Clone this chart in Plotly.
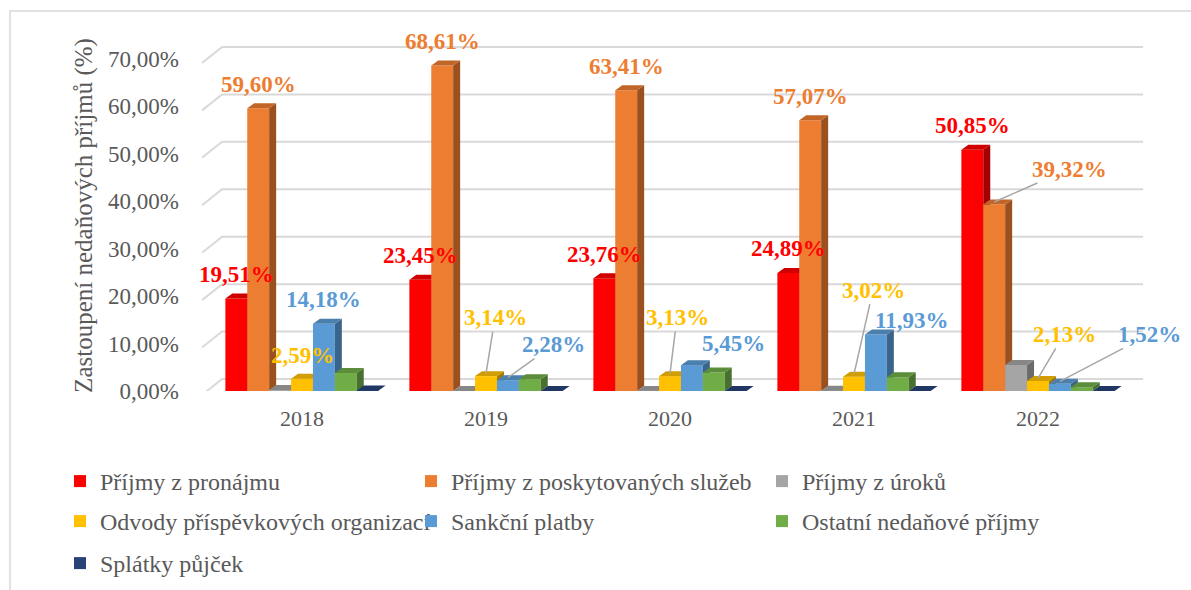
import plotly.graph_objects as go

# ---------------- data ----------------
years = ["2018", "2019", "2020", "2021", "2022"]
series_names = [
    "Příjmy z pronájmu",
    "Příjmy z poskytovaných služeb",
    "Příjmy z úroků",
    "Odvody příspěvkových organizací",
    "Sankční platby",
    "Ostatní nedaňové příjmy",
    "Splátky půjček",
]
pronajem = [19.51, 23.45, 23.76, 24.89, 50.85]
sluzby = [59.60, 68.61, 63.41, 57.07, 39.32]
uroky = [0.2, 0.02, 0.03, 0.05, 5.5]
odvody = [2.59, 3.14, 3.13, 3.02, 2.13]
sankce = [14.18, 2.28, 5.45, 11.93, 1.52]
ostatni = [3.8, 2.5, 3.9, 2.9, 0.8]
splatky = [0.1, 0.0, 0.0, 0.0, 0.0]
y_ticks = [0, 10, 20, 30, 40, 50, 60, 70]
y_tick_labels = ["0,00%", "10,00%", "20,00%", "30,00%", "40,00%", "50,00%", "60,00%", "70,00%"]
y_title = "Zastoupení nedaňových příjmů (%)"

values = [pronajem, sluzby, uroky, odvody, sankce, ostatni, splatky]

# ---------------- style ----------------
colors = ["#FF0000", "#ED7D31", "#A5A5A5", "#FFC000", "#5B9BD5", "#70AD47", "#264478"]
labelled = [0, 1, 3, 4]  # series with data labels
FONT = "Liberation Serif"
TXT = "#595959"

W, H = 1191, 590
ML, MR, MT, MB = 202, 41, 40, 199
PW, PH = W - ML - MR, H - MT - MB


def shade(hex_color, f):
    h = hex_color.lstrip("#")
    r, g, b = (int(h[i:i + 2], 16) for i in (0, 2, 4))
    return "#%02X%02X%02X" % (int(r * f), int(g * f), int(b * f))


# geometry (layout constants)
n = len(series_names)
group_w = 0.833
w = group_w / n
dx = 0.038          # depth shift in x (category units)
dy = 1.05           # depth shift in y (% units)
grid_dx = 0.109
grid_dy = 2.53
grid_front = -0.84
x_lo, x_hi = -0.5435, 4.6087
grid_end = 4.571


def bar_x(c, i):
    return c - group_w / 2 + (i + 0.5) * w


# label placement: (xshift/ax, yshift/ay, leader line?) in pixels
label_style = {
    (0, 0): (0, 24, False), (0, 1): (0, 24, False), (0, 2): (0, 24, False),
    (0, 3): (0, 24, False), (0, 4): (0, 24, False),
    (1, 0): (0, 24, False), (1, 1): (0, 24, False), (1, 2): (0, 24, False),
    (1, 3): (0, 24, False), (1, 4): (75, -33, True),
    (3, 0): (0, 23, False), (3, 1): (9, -56, True), (3, 2): (7, -56, True),
    (3, 3): (19, -84, True), (3, 4): (26, -44, True),
    (4, 0): (0, 24, False), (4, 1): (46, -33, True), (4, 2): (42, 22, False),
    (4, 3): (36, 14, False), (4, 4): (90, -47, True),
}

fig = go.Figure()

# back-wall gridlines with the 3D diagonal on the left
gx, gy = [], []
for v in y_ticks:
    gx += [x_lo, x_lo + grid_dx, grid_end, None]
    gy += [v + grid_front, v + grid_dy, v + grid_dy, None]
fig.add_trace(go.Scatter(x=gx, y=gy, mode="lines", line=dict(color="#D9D9D9", width=2),
                         showlegend=False, hoverinfo="skip", zorder=-1))

# legend rows: row1 = series 0,1,2 ; row2 = 3,4,5 ; row3 = 6
legend_of = ["legend", "legend", "legend", "legend2", "legend2", "legend2", "legend3"]

for i, (name, vals) in enumerate(zip(series_names, values)):
    xs = [bar_x(c, i) for c in range(len(years))]
    fig.add_trace(go.Bar(
        x=xs, y=vals, width=w, name=name, marker=dict(color=colors[i], line=dict(width=0)),
        legend=legend_of[i], zorder=3 * i,
        hovertemplate=name + ": %{y:.2f}%<extra></extra>",
    ))
    sx, sy, tx, ty = [], [], [], []
    for x, v in zip(xs, vals):
        x0, x1 = x - w / 2, x + w / 2
        sx += [x1, x1 + dx, x1 + dx, x1, x1, None]
        sy += [0, dy, v + dy, v, 0, None]
        tx += [x0, x1, x1 + dx, x0 + dx, x0, None]
        ty += [v, v, v + dy, v + dy, v, None]
    fig.add_trace(go.Scatter(x=sx, y=sy, mode="lines", fill="toself",
                             fillcolor=shade(colors[i], 0.65), line=dict(width=0),
                             showlegend=False, hoverinfo="skip", zorder=3 * i + 1))
    fig.add_trace(go.Scatter(x=tx, y=ty, mode="lines", fill="toself",
                             fillcolor=shade(colors[i], 0.82), line=dict(width=0),
                             showlegend=False, hoverinfo="skip", zorder=3 * i + 2))

# data labels
for i in labelled:
    for c, v in enumerate(values[i]):
        ox, oy, leader = label_style[(i, c)]
        text = f"{v:.2f}".replace(".", ",") + "%"
        font = dict(family=FONT, size=23, color=colors[i])
        if leader:
            fig.add_annotation(x=bar_x(c, i), y=v + dy * 0.5, text="<b>" + text + "</b>",
                               showarrow=True, arrowhead=0, arrowwidth=1.5, arrowcolor="#A6A6A6",
                               ax=ox, ay=oy, standoff=0, font=font)
        else:
            fig.add_annotation(x=bar_x(c, i), y=v, text="<b>" + text + "</b>", showarrow=False,
                               xshift=ox, yshift=oy, yanchor="middle", font=font)


def px_x(p):
    return (p - ML) / PW


def px_y(p):
    return (H - MB - p) / PH


# outer frame
fig.add_shape(type="rect", xref="paper", yref="paper", x0=px_x(10), y0=px_y(640), x1=px_x(1260),
              y1=px_y(11), line=dict(color="#D9D9D9", width=1.5), fillcolor="rgba(0,0,0,0)",
              layer="below")

leg_common = dict(orientation="h", xanchor="left", yanchor="top", x=px_x(60),
                  entrywidth=306, entrywidthmode="pixels",
                  font=dict(family=FONT, size=24, color=TXT),
                  bgcolor="rgba(0,0,0,0)", itemclick=False, itemdoubleclick=False)

fig.update_layout(
    width=W, height=H,
    margin=dict(l=ML, r=MR, t=MT, b=MB, autoexpand=False),
    paper_bgcolor="white", plot_bgcolor="white",
    barmode="overlay",
    showlegend=True,
    font=dict(family=FONT, color=TXT),
    xaxis=dict(range=[x_lo, x_hi], tickvals=list(range(len(years))), ticktext=years,
               showgrid=False, zeroline=False, showline=False, ticks="", automargin=False,
               tickfont=dict(family=FONT, size=22, color=TXT), ticklabelstandoff=12,
               fixedrange=True),
    yaxis=dict(range=[0, 74], tickvals=y_ticks, ticktext=y_tick_labels,
               showgrid=False, zeroline=False, showline=False, ticks="", automargin=False,
               tickfont=dict(family=FONT, size=23, color=TXT), ticklabelstandoff=22,
               title=dict(text=y_title, font=dict(family=FONT, size=25, color=TXT), standoff=8),
               fixedrange=True),
    legend=dict(leg_common, y=px_y(459)),
    legend2=dict(leg_common, y=px_y(499)),
    legend3=dict(leg_common, y=px_y(541)),
)

fig.write_html("out.html", config={"displayModeBar": False},
               post_script="document.body.style.margin='0';")
